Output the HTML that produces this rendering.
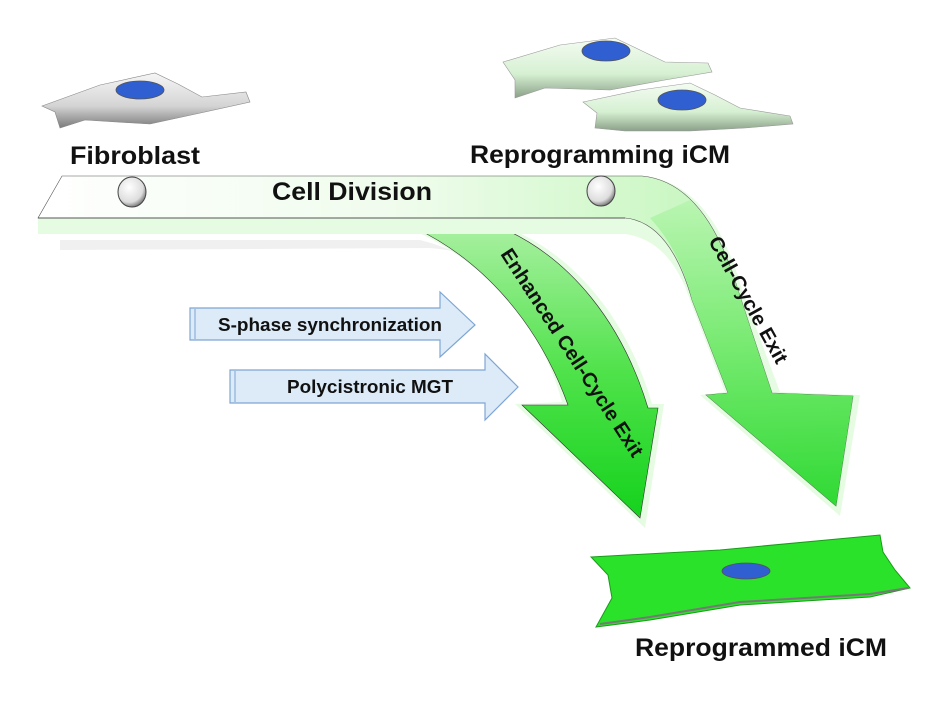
<!DOCTYPE html>
<html><head><meta charset="utf-8"><style>
html,body{margin:0;padding:0;background:#fff;}
svg{display:block;}
text{font-family:"Liberation Sans",Arial,sans-serif;font-weight:bold;}
</style></head><body>
<svg width="928" height="714" viewBox="0 0 928 714" xmlns="http://www.w3.org/2000/svg">
<defs>
<linearGradient id="bar" x1="0" y1="0" x2="1" y2="0">
<stop offset="0" stop-color="#ffffff"/><stop offset="0.45" stop-color="#effcec"/><stop offset="1" stop-color="#b4f4aa"/>
</linearGradient>
<linearGradient id="grn" x1="0" y1="0" x2="0" y2="1">
<stop offset="0" stop-color="#a8f0a0"/><stop offset="0.5" stop-color="#4fe24a"/><stop offset="1" stop-color="#14d21c"/>
</linearGradient>
<linearGradient id="grn2" x1="0" y1="0" x2="0" y2="1">
<stop offset="0" stop-color="#b8f5b0"/><stop offset="0.5" stop-color="#6be865"/><stop offset="1" stop-color="#20d626"/>
</linearGradient>
<linearGradient id="gray" x1="0" y1="0" x2="0" y2="1">
<stop offset="0" stop-color="#f6f6f6"/><stop offset="0.6" stop-color="#d4d4d4"/><stop offset="1" stop-color="#7a7a7a"/>
</linearGradient>
<linearGradient id="pale" x1="0" y1="0" x2="0" y2="1">
<stop offset="0" stop-color="#f4fcf2"/><stop offset="0.6" stop-color="#d6f0d2"/><stop offset="1" stop-color="#8aa088"/>
</linearGradient>
<radialGradient id="ball" cx="0.4" cy="0.35" r="0.7">
<stop offset="0" stop-color="#fff"/><stop offset="0.7" stop-color="#ddd"/><stop offset="1" stop-color="#666"/>
</radialGradient>
</defs>

<path d="M60,240 L420,240 Q500,260 540,330 L560,340 Q520,255 430,248 L60,250 Z" fill="#f0f0f0"/>

<!-- left arrow (Enhanced), behind bar -->
<path d="M408,228 C480,258 540,320 562,402 L515,404 L645,528 L664,404 L652,404 C628,320 575,255 508,228 Z" fill="#e6fce2"/>
<path d="M415,228 C482,260 538,322 568,405 L522,405 L640,518 L658,408 L648,408 C622,322 570,258 502,228 Z" fill="url(#grn)" stroke="#333" stroke-width="0.6"/>

<!-- bar + right arrow -->
<path d="M38,218 L38,234 L625,234 Q670,240 690,300 L725,392 L700,395 L840,516 L860,395 L780,392 L742,290 Q712,182 642,176 Z" fill="#e6fce2"/>
<path d="M62,176 L642,176 Q706,182 738,290 L772,393 L853,396 L836,506 L706,395 L728,393 L692,300 Q670,222 625,218 L38,218 Z" fill="url(#bar)" stroke="#555" stroke-width="0.6"/>
<path d="M692,300 L728,393 L706,395 L836,506 L853,396 L772,393 L738,290 Q720,230 690,200 L650,218 Q680,250 692,300 Z" fill="url(#grn2)" opacity="0.9"/>
<path d="M38,218 L625,218" stroke="#555" stroke-width="1"/>

<ellipse cx="132" cy="192" rx="14" ry="15" fill="url(#ball)" stroke="#444" stroke-width="1"/>
<ellipse cx="601" cy="191" rx="14" ry="15" fill="url(#ball)" stroke="#444" stroke-width="1"/>

<text x="352" y="200" font-size="25" text-anchor="middle" fill="#111" textLength="160" lengthAdjust="spacingAndGlyphs">Cell Division</text>

<text transform="translate(500,254) rotate(57)" font-size="20" fill="#111" textLength="244" lengthAdjust="spacingAndGlyphs">Enhanced Cell-Cycle Exit</text>
<text transform="translate(708,241) rotate(61)" font-size="20" fill="#111" textLength="142" lengthAdjust="spacingAndGlyphs">Cell-Cycle Exit</text>

<!-- blue arrows -->
<path d="M190,308 L440,308 L440,292 L475,325 L440,357 L440,340 L190,340 Z" fill="#dcebf7" stroke="#7ea6d4" stroke-width="1.2"/>
<path d="M195,309 L195,339" stroke="#7ea6d4" stroke-width="1"/>
<text x="330" y="331" font-size="18" text-anchor="middle" fill="#111" textLength="224" lengthAdjust="spacingAndGlyphs">S-phase synchronization</text>
<path d="M230,370 L485,370 L485,354 L518,387 L485,420 L485,403 L230,403 Z" fill="#dcebf7" stroke="#7ea6d4" stroke-width="1.2"/>
<path d="M235,371 L235,402" stroke="#7ea6d4" stroke-width="1"/>
<text x="370" y="393" font-size="18" text-anchor="middle" fill="#111" textLength="166" lengthAdjust="spacingAndGlyphs">Polycistronic MGT</text>

<!-- fibroblast -->
<path d="M42,106 L100,85 L155,73 L178,84 L202,97 L246,92 L250,102 L205,112 L150,124 L85,120 L60,128 L55,112 Z" fill="url(#gray)" stroke="#888" stroke-width="0.6"/>
<ellipse cx="140" cy="90" rx="24" ry="9" fill="#2f5fd0" stroke="#555" stroke-width="0.8"/>
<text x="70" y="164" font-size="25" fill="#111" textLength="130" lengthAdjust="spacingAndGlyphs">Fibroblast</text>

<!-- reprogramming cells -->
<path d="M503,62 L560,45 L615,38 L640,50 L665,62 L708,63 L712,72 L665,80 L610,90 L545,88 L515,98 L515,80 Z" fill="url(#pale)" stroke="#999" stroke-width="0.6"/>
<ellipse cx="606" cy="51" rx="24" ry="10" fill="#2f5fd0" stroke="#555" stroke-width="0.8"/>
<path d="M583,102 L640,90 L690,83 L715,95 L740,108 L790,116 L793,124 L745,128 L690,131 L625,131 L595,128 L597,113 Z" fill="url(#pale)" stroke="#999" stroke-width="0.6"/>
<ellipse cx="682" cy="100" rx="24" ry="10" fill="#2f5fd0" stroke="#555" stroke-width="0.8"/>
<text x="470" y="163" font-size="25" fill="#111" textLength="260" lengthAdjust="spacingAndGlyphs">Reprogramming iCM</text>

<!-- reprogrammed iCM -->
<path d="M591,557 L720,550 L880,535 L883,552 L895,570 L910,588 L870,597 L740,605 L650,620 L596,627 L612,598 L608,575 Z" fill="#2be22a" stroke="#1a9c1a" stroke-width="1"/>
<path d="M600,624 L650,617 L740,602 L870,594 L908,588" stroke="#777" stroke-width="2" fill="none"/>
<ellipse cx="746" cy="571" rx="24" ry="8" fill="#2f5fd0" stroke="#555" stroke-width="0.8"/>
<text x="635" y="656" font-size="25" fill="#111" textLength="252" lengthAdjust="spacingAndGlyphs">Reprogrammed iCM</text>
</svg>
</body></html>
